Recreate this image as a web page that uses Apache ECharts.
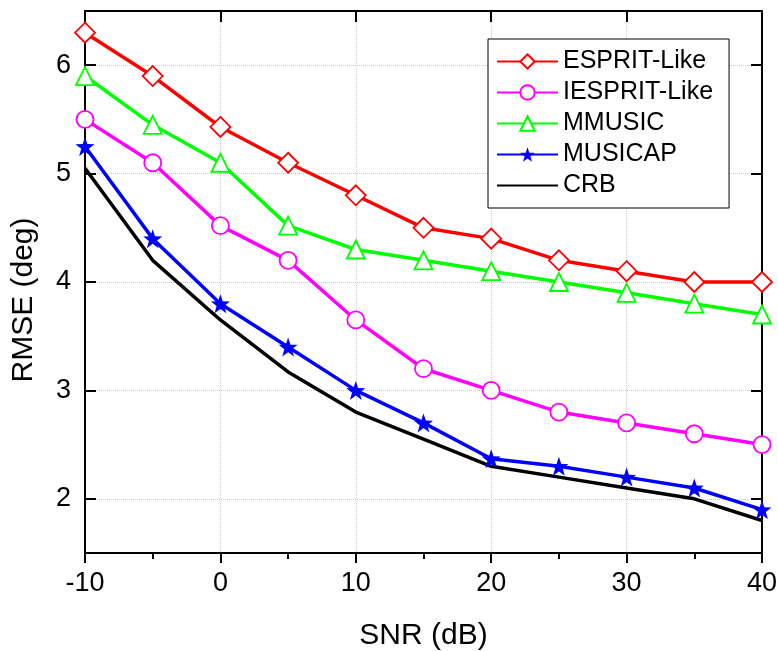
<!DOCTYPE html>
<html>
<head>
<meta charset="utf-8">
<script src="https://cdn.jsdelivr.net/npm/echarts@6/dist/echarts.min.js"></script>
<style>
  html, body { margin: 0; padding: 0; background: #fff; }
  #main { width: 778px; height: 651px; }
</style>
</head>
<body>
<div id="main"></div>
<script>
// SNR 横轴
var snr = [-10, -5, 0, 5, 10, 15, 20, 25, 30, 35, 40];

// 各算法的 RMSE
var espritLike  = [6.3, 5.9, 5.43, 5.1, 4.8, 4.5, 4.4, 4.2, 4.1, 4.0, 4.0];
var iespritLike = [5.5, 5.1, 4.52, 4.2, 3.65, 3.2, 3.0, 2.8, 2.7, 2.6, 2.5];
var mmusic      = [5.9, 5.45, 5.1, 4.52, 4.3, 4.2, 4.1, 4.0, 3.9, 3.8, 3.7];
var musicap     = [5.25, 4.4, 3.8, 3.4, 3.0, 2.7, 2.37, 2.3, 2.2, 2.1, 1.9];
var crb         = [5.05, 4.2, 3.65, 3.17, 2.8, 2.55, 2.3, 2.2, 2.1, 2.0, 1.8];

var names = ['ESPRIT-Like', 'IESPRIT-Like', 'MMUSIC', 'MUSICAP', 'CRB'];

// 纵轴刻度
var yTicks = [2, 3, 4, 5, 6];

var font = 'Liberation Sans, Arial, sans-serif';
var star = 'path://M0,-10 L2.35,-3.24 L9.51,-3.09 L3.8,1.24 L5.88,8.09 L0,4 L-5.88,8.09 L-3.8,1.24 L-9.51,-3.09 L-2.35,-3.24 Z';

function pair(ys) {
    return snr.map(function (x, i) { return [x, ys[i]]; });
}

function line(name, ys, color, symbol, size, filled) {
    return {
        name: name,
        type: 'line',
        data: pair(ys),
        symbol: symbol || 'none',
        symbolSize: size || 0,
        showSymbol: !!symbol,
        z: 5,
        lineStyle: { color: color, width: 3.5 },
        itemStyle: symbol ? {
            color: filled ? color : '#fff',
            borderColor: color,
            borderWidth: filled ? 0 : 1.8
        } : { color: 'rgba(0,0,0,0)', borderColor: 'rgba(0,0,0,0)', borderWidth: 0 },
        emphasis: { disabled: true }
    };
}

var gridLine = { show: true, lineStyle: { color: '#c8c8c8', type: 'dotted', width: 1 } };
var axisLine = { show: true, onZero: false, lineStyle: { color: '#000', width: 2 } };
var tickStyle = { color: '#000', width: 2 };

var chart = echarts.init(document.getElementById('main'));
chart.setOption({
    backgroundColor: '#fff',
    animation: false,
    grid: { left: 85, right: 16, top: 11, bottom: 98, outerBoundsMode: 'none', containLabel: false },
    legend: {
        orient: 'vertical',
        left: 488,
        top: 39,
        padding: [10, 16, 10, 8],
        itemGap: 6,
        itemWidth: 61,
        itemHeight: 18,
        borderColor: '#000',
        borderWidth: 1,
        backgroundColor: '#fff',
        data: names,
        textStyle: { fontFamily: font, fontSize: 25, color: '#000' }
    },
    xAxis: [{
        type: 'value',
        min: -10, max: 40, interval: 10,
        name: 'SNR (dB)',
        nameLocation: 'middle',
        nameGap: 68,
        nameTextStyle: { fontFamily: font, fontSize: 30, color: '#000' },
        axisLine: axisLine,
        axisTick: { inside: false, length: 10, lineStyle: tickStyle },
        minorTick: { show: true, splitNumber: 2, length: 6, lineStyle: tickStyle },
        axisLabel: { fontFamily: font, fontSize: 27, color: '#000', margin: 17 },
        splitLine: gridLine
    }, {
        type: 'value',
        position: 'top',
        min: -10, max: 40, interval: 10,
        axisLine: axisLine,
        axisTick: { inside: true, length: 11, lineStyle: tickStyle },
        axisLabel: { show: false },
        splitLine: { show: false }
    }],
    yAxis: [{
        type: 'value',
        min: 1.5, max: 6.5, interval: 0.5,
        name: 'RMSE (deg)',
        nameLocation: 'middle',
        nameGap: 46,
        nameTextStyle: { fontFamily: font, fontSize: 30, color: '#000', padding: [0, 36, 0, 0] },
        axisLine: axisLine,
        axisTick: { inside: true, length: 11, lineStyle: tickStyle, customValues: yTicks },
        axisLabel: { fontFamily: font, fontSize: 27, color: '#000', margin: 14, customValues: yTicks },
        splitLine: gridLine
    }, {
        type: 'value',
        position: 'right',
        min: 1.5, max: 6.5, interval: 0.5,
        axisLine: axisLine,
        axisTick: { inside: true, length: 11, lineStyle: tickStyle, customValues: yTicks },
        axisLabel: { show: false },
        splitLine: { show: false }
    }],
    series: [
        line(names[0], espritLike, '#ff0000', 'diamond', 20, false),
        line(names[1], iespritLike, '#ff00ff', 'circle', 17, false),
        line(names[2], mmusic, '#00ff00', 'triangle', 18, false),
        line(names[3], musicap, '#0000ff', star, 19, true),
        line(names[4], crb, '#000000', null, 0, false)
    ]
});
</script>
</body>
</html>
